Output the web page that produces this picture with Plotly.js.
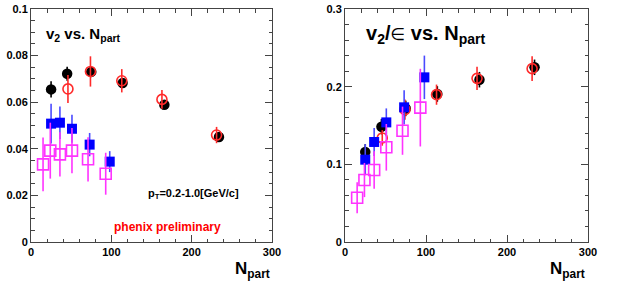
<!DOCTYPE html>
<html>
<head>
<meta charset="utf-8">
<script src="https://cdn.plot.ly/plotly-3.0.1.min.js"></script>
<style>html,body{margin:0;padding:0;background:#fff;}#chart{width:618px;height:287px;}</style>
</head>
<body>
<div id="chart"></div>
<script>
// ---- data ----
const blackN   = [25, 45, 75, 114, 166, 234];
const blackV2  = [0.0655, 0.0722, 0.0730, 0.0682, 0.0589, 0.0451];
const blackV2E = [0.0035, 0.0030, 0.0020, 0.0020, 0.0018, 0.0015];
const blackR   = [0.116, 0.1485, 0.172, 0.1906, 0.209, 0.2249];
const blackRE  = [0.010, 0.010, 0.010, 0.010, 0.010, 0.010];

const redN   = [46, 74, 113, 163, 231];
const redV2  = [0.0657, 0.0732, 0.0692, 0.0612, 0.0459];
const redV2E = [0.0060, 0.0065, 0.0050, 0.0040, 0.0035];
const redR   = [0.134, 0.1704, 0.1897, 0.2107, 0.2232];
const redRE  = [0.010, 0.013, 0.013, 0.015, 0.016];

const blueN   = [25, 36, 51, 73, 98];
const blueV2  = [0.0508, 0.0512, 0.0486, 0.0418, 0.0345];
const blueV2E = [0.0085, 0.0070, 0.0060, 0.0050, 0.0045];
const blueR   = [0.106, 0.1288, 0.154, 0.1734, 0.212];
const blueRE  = [0.020, 0.018, 0.018, 0.022, 0.028];

const magN   = [15, 24, 36, 51, 71, 93];
const magV2  = [0.0333, 0.0392, 0.0376, 0.0392, 0.0355, 0.0293];
const magV2E = [0.0115, 0.0120, 0.0095, 0.0097, 0.0095, 0.0090];
const magR   = [0.057, 0.0798, 0.0927, 0.1219, 0.1433, 0.173];
const magRE  = [0.020, 0.022, 0.024, 0.030, 0.031, 0.050];

const xTicks = [0, 100, 200, 300];

// ---- styles ----
const W = 618, H = 287;
const px = x => x / W, py = y => 1 - y / H;
const FONT = 'Liberation Sans, Arial, sans-serif';
const C = {black:'#000000', red:'#ff2a2a', blue:'#0000ff', blueErr:'#4a4aff', mag:'#ff33ff'};

function series(x, y, e, xa, ya, sym, col, ecol, size, open) {
  return {
    type:'scatter', mode:'markers', x:x, y:y, xaxis:xa, yaxis:ya,
    marker:{symbol:sym, size:size, color:col,
            line:{color:col, width: open ? 1.6 : 0}},
    error_y:{type:'data', array:e, visible:true, width:0, thickness:1.6, color:ecol},
    showlegend:false, hoverinfo:'skip'
  };
}

const traces = [
  series(blackN, blackV2, blackV2E, 'x', 'y', 'circle', C.black, C.black, 10.5, false),
  series(redN, redV2, redV2E, 'x', 'y', 'circle-open', C.red, C.red, 10, true),
  series(blueN, blueV2, blueV2E, 'x', 'y', 'square', C.blue, C.blueErr, 10, false),
  series(magN, magV2, magV2E, 'x', 'y', 'square-open', C.mag, C.mag, 11, true),
  series(blackN, blackR, blackRE, 'x2', 'y2', 'circle', C.black, C.black, 10.5, false),
  series(redN, redR, redRE, 'x2', 'y2', 'circle-open', C.red, C.red, 10, true),
  series(blueN, blueR, blueRE, 'x2', 'y2', 'square', C.blue, C.blueErr, 10, false),
  series(magN, magR, magRE, 'x2', 'y2', 'square-open', C.mag, C.mag, 11, true)
];

const tickfont = {family:FONT, size:11, color:'#000', weight:'bold'};
function axis(domain, range, dtick, minorD, anchor, tickvals) {
  const a = {
    domain:domain, range:range, anchor:anchor,
    showgrid:false, zeroline:false, showline:true, linecolor:'#444', linewidth:1,
    mirror:'allticks', ticks:'inside', ticklen:7, tickwidth:1, tickcolor:'#444',
    tickfont:tickfont, dtick:dtick, tick0:0,
    minor:{dtick:minorD, tick0:0, ticks:'inside', ticklen:3.5, tickwidth:1, tickcolor:'#444', showgrid:false},
    automargin:false, fixedrange:true
  };
  if (tickvals) { a.tickmode = 'array'; a.tickvals = tickvals; }
  return a;
}

const yDom = [py(242), py(9)];
const layout = {
  width:W, height:H, margin:{l:0, r:0, t:0, b:0},
  paper_bgcolor:'#fff', plot_bgcolor:'#fff',
  xaxis: axis([px(31), px(272)], [0, 300], 100, 20, 'y', xTicks),
  yaxis: axis(yDom, [0, 0.1], 0.02, 0.005, 'x'),
  xaxis2: axis([px(345), px(588)], [0, 300], 100, 20, 'y2', xTicks),
  yaxis2: axis(yDom, [0, 0.3], 0.1, 0.02, 'x2'),
  annotations: [
    {text:'v<sub>2</sub> vs. N<sub>part</sub>', xref:'paper', yref:'paper', x:px(44), y:py(34),
     xanchor:'left', yanchor:'middle', showarrow:false, font:{family:FONT, size:15, weight:'bold', color:'#000'}},
    {text:'v<sub>2</sub>/<span style="font-weight:normal;font-size:17px;font-family:DejaVu Sans">\u2208</span> vs. N<sub>part</sub>', xref:'paper', yref:'paper', x:px(364), y:py(34),
     xanchor:'left', yanchor:'middle', showarrow:false, font:{family:FONT, size:20, weight:'bold', color:'#000'}},
    {text:'p<sub>T</sub>=0.2-1.0[GeV/c]', xref:'paper', yref:'paper', x:px(146), y:py(194),
     xanchor:'left', yanchor:'middle', showarrow:false, font:{family:FONT, size:11, weight:'bold', color:'#000'}},
    {text:'phenix preliminary', xref:'paper', yref:'paper', x:px(167), y:py(227),
     xanchor:'center', yanchor:'middle', showarrow:false, font:{family:FONT, size:12, weight:'bold', color:'#ff0000'}},
    {text:'N<sub>part</sub>', xref:'paper', yref:'paper', x:px(272), y:py(270),
     xanchor:'right', yanchor:'middle', showarrow:false, font:{family:FONT, size:17, weight:'bold', color:'#000'}},
    {text:'N<sub>part</sub>', xref:'paper', yref:'paper', x:px(587), y:py(270),
     xanchor:'right', yanchor:'middle', showarrow:false, font:{family:FONT, size:17, weight:'bold', color:'#000'}}
  ]
};

Plotly.newPlot('chart', traces, layout, {staticPlot:true, displayModeBar:false});
</script>
</body>
</html>
